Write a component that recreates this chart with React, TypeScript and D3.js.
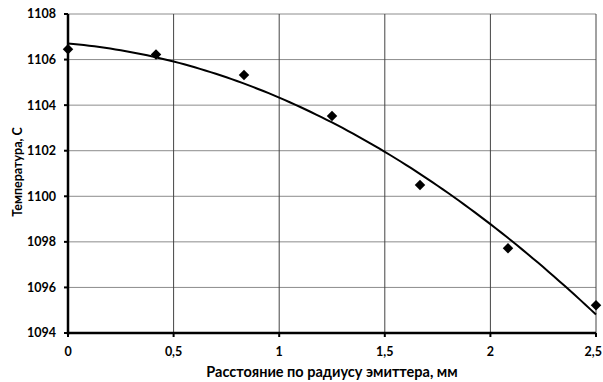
import React from "react";
import * as d3 from "d3";

const xValues = [0, 0.4167, 0.8333, 1.25, 1.6667, 2.0833, 2.5];
const tempValues = [1106.45, 1106.22, 1105.32, 1103.52, 1100.5, 1097.72, 1095.22];
const xTicks = [0, 0.5, 1, 1.5, 2, 2.5];
const yTicks = [1094, 1096, 1098, 1100, 1102, 1104, 1106, 1108];
const xTitle = "Расстояние по радиусу эмиттера, мм";
const yTitle = "Температура, С";

function quadFit(xs: number[], ys: number[]) {
  let s0 = 0, s1 = 0, s2 = 0, s3 = 0, s4 = 0, t0 = 0, t1 = 0, t2 = 0;
  xs.forEach((x, i) => {
    const y = ys[i];
    s0 += 1; s1 += x; s2 += x * x; s3 += x ** 3; s4 += x ** 4;
    t0 += y; t1 += x * y; t2 += x * x * y;
  });
  const M = [
    [s0, s1, s2, t0],
    [s1, s2, s3, t1],
    [s2, s3, s4, t2],
  ];
  for (let i = 0; i < 3; i++) {
    for (let k = i + 1; k < 3; k++) {
      const f = M[k][i] / M[i][i];
      for (let j = i; j < 4; j++) M[k][j] -= f * M[i][j];
    }
  }
  const r = [0, 0, 0];
  for (let i = 2; i >= 0; i--) {
    let s = M[i][3];
    for (let j = i + 1; j < 3; j++) s -= M[i][j] * r[j];
    r[i] = s / M[i][i];
  }
  return (x: number) => r[0] + r[1] * x + r[2] * x * x;
}

export default function App() {
  const W = 603, H = 382;
  const left = 68, right = 596, top = 14, bottom = 333;
  const x = d3.scaleLinear().domain([0, 2.5]).range([left, right]);
  const y = d3.scaleLinear().domain([1094, 1108]).range([bottom, top]);
  const fit = quadFit(xValues, tempValues);
  const curvePts = d3.range(0, 2.5001, 0.025).map((v) => [v, fit(v)] as [number, number]);
  const line = d3.line<[number, number]>().x((d) => x(d[0])).y((d) => y(d[1]));
  const font = "Lato, 'Open Sans', sans-serif";
  const diamond = d3.symbol().type(d3.symbolDiamond2).size(70)();
  return (
    <svg width={W} height={H} style={{ position: "absolute", left: 0, top: 0, background: "#fff" }} fontFamily={font}>
      {yTicks.map((t) => (
        <line key={"gy" + t} x1={left} x2={right} y1={y(t)} y2={y(t)} stroke="#8c8c8c" strokeWidth={1} />
      ))}
      {xTicks.map((t) => (
        <line key={"gx" + t} x1={x(t)} x2={x(t)} y1={top} y2={bottom} stroke="#444" strokeWidth={1} />
      ))}
      <line x1={left} x2={left} y1={top} y2={bottom + 1.5} stroke="#000" strokeWidth={2.5} />
      <line x1={left - 1} x2={right} y1={bottom} y2={bottom} stroke="#000" strokeWidth={2.5} />
      {yTicks.map((t) => (
        <g key={"ty" + t}>
          <line x1={left - 4} x2={left} y1={y(t)} y2={y(t)} stroke="#000" strokeWidth={2} />
          <text x={56} y={y(t)} dy="0.35em" textAnchor="end" fontSize={12.5} fontWeight="bold">
            {t}
          </text>
        </g>
      ))}
      {xTicks.map((t, i) => {
        const last = i === xTicks.length - 1;
        return (
          <g key={"tx" + t}>
            <line x1={x(t)} x2={x(t)} y1={bottom} y2={bottom + 4} stroke="#000" strokeWidth={2} />
            <text
              x={last ? W - 1 : x(t)}
              y={356}
              textAnchor={last ? "end" : "middle"}
              fontSize={12.5}
              fontWeight="bold"
            >
              {String(t).replace(".", ",")}
            </text>
          </g>
        );
      })}
      <path d={line(curvePts) || ""} fill="none" stroke="#000" strokeWidth={2} />
      {xValues.map((v, i) => (
        <path key={"p" + i} d={diamond || ""} transform={`translate(${x(v)},${y(tempValues[i])})`} fill="#000" />
      ))}
      <text x={332} y={377} textAnchor="middle" fontSize={14.5} fontWeight="bold">
        {xTitle}
      </text>
      <text transform="translate(22,172) rotate(-90)" textAnchor="middle" fontSize={12.5} fontWeight="bold">
        {yTitle}
      </text>
    </svg>
  );
}
